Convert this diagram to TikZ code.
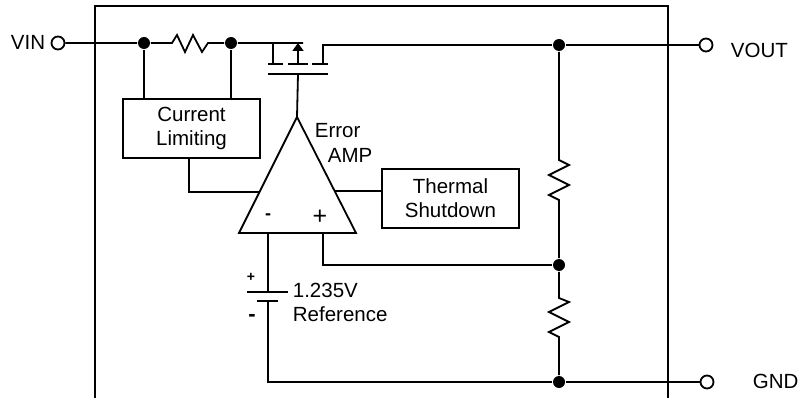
\documentclass[tikz,border=0pt]{standalone}
\usepackage{fontspec}
\setmainfont{Liberation Sans}
\usetikzlibrary{positioning,arrows.meta}

\tikzset{
  dot/.style={circle,fill,inner sep=0pt,minimum size=12pt},
  term/.style={circle,draw,fill=white,inner sep=0pt,minimum size=13pt},
  block/.style={draw,align=center,inner sep=0pt,minimum width=137pt,minimum height=59pt,
    font=\fontsize{20.5}{24}\selectfont},
  lbl/.style={inner sep=0pt,font=\fontsize{20.5}{24}\selectfont},
  sign/.style={inner sep=0pt,font=\bfseries\fontsize{14}{16}\selectfont},
}

\begin{document}
\begin{tikzpicture}[x=1pt,y=-1pt,line width=1.8pt]
\useasboundingbox (0,0) rectangle (798,398);

% package outline
\draw (95,398) -- (95,6) -- (668,6) -- (668,398);

% blocks
\node[block] (curlim) at (191.5,128.5) {Current\\Limiting};
\node[block] (thermal) at (450.5,198.5) {Thermal\\Shutdown};

% error amp
\coordinate (amptop) at (297,117);
\coordinate (ampbl) at (239,233);
\coordinate (ampbr) at (356,233);
\coordinate (ampinl) at (259.5,192);
\coordinate (ampinr) at (334.5,191);
\coordinate (ampneg) at (268,233);
\coordinate (amppos) at (323,233);
\draw (amptop) -- (ampbr) -- (ampbl) -- cycle;
\node[lbl,anchor=base west] (errlbl) at (314,138) {Error};
\node[lbl,anchor=base west] (amplbl) at (327,163) {AMP};
\node[sign,font=\bfseries\fontsize{18}{18}\selectfont] (minus) at (268,217) {-};
\node[sign,font=\fontsize{25}{25}\selectfont] (plus) at (320,217) {+};

% dots
\node[dot] (d1) at (144,43) {};
\node[dot] (d2) at (231,43) {};
\node[dot] (d3) at (559,45) {};
\node[dot] (d4) at (559,265) {};
\node[dot] (d5) at (559,382) {};

% pins
\node[term] (vin) at (58,43) {};
\node[lbl,anchor=base west] (vinlbl) at (10,50) {VIN};
\node[term] (vout) at (706,45) {};
\node[lbl,anchor=base west] (voutlbl) at (730,58) {VOUT};
\node[term] (gnd) at (707,382) {};
\node[lbl,anchor=base west] (gndlbl) at (752,388) {GND};

% input side and sense resistor
\draw (vin) -- (d1) -- (172,43) -- (177,35) -- (185,52) -- (193,35) -- (202,52)
      -- (208,43) -- (d2) -- (303,43);
\draw (d1) -- (d1 |- curlim.north);
\draw (d2) -- (d2 |- curlim.north);

% pass transistor
\draw (273,43) -- (273,64);
\draw (268,64) -- (283,64) (288,64) -- (308,64) (312,64) -- (328,64);
\draw (268,74) -- (328,74);
\draw[-{Triangle[width=11pt,length=8pt]}] (298,64) -- (298,43);
\draw (298,74) -- (amptop);
\draw (323,64) -- (323,45) -- (d3) -- (vout);

% divider
\draw (d3) -- (559,160) -- (569,165) -- (549,175) -- (569,185) -- (549,195)
      -- (559,200) -- (d4) -- (559,298) -- (569,302) -- (549,312) -- (569,322)
      -- (549,332) -- (559,337) -- (d5);

% amp connections
\draw ([xshift=-2.5pt]curlim.south) |- (ampinl);
\draw (ampinr) -- (ampinr -| thermal.west);
\draw (amppos) |- (d4);

% reference
\draw (ampneg) -- (268,292);
\draw (247,292) -- (288,292);
\draw (257,301) -- (278,301);
\draw (268,301) -- (268,382) -- (d5) -- (gnd);
\node[sign] (refplus) at (251,277) {+};
\node[sign,font=\bfseries\fontsize{22}{22}\selectfont] (refminus) at (252,318) {-};
\node[lbl,anchor=base west] (reflbl) at (292,298) {1.235V};
\node[lbl,anchor=base west] (reflbl2) at (292,321) {Reference};
\end{tikzpicture}
\end{document}
